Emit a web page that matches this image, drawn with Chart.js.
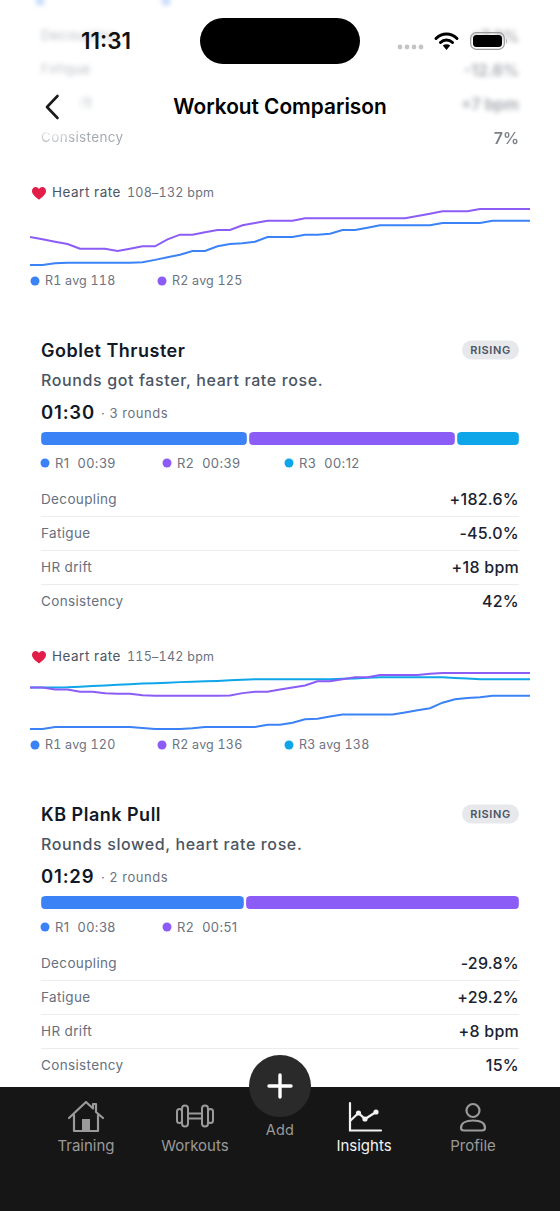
<!DOCTYPE html>
<html>
<head>
<meta charset="utf-8">
<title>Workout Comparison</title>
<script src="https://cdn.jsdelivr.net/npm/chart.js@4"></script>
<style>
  * { box-sizing: border-box; }
  html, body { margin: 0; padding: 0; background: #fff; }
  body { width: 560px; height: 1211px; position: relative; overflow: hidden; font-family: Inter, sans-serif; color: #111827; }
  .t { position: absolute; white-space: pre; line-height: 1; transform: translateY(-50%); }
  .r { transform: translate(-100%, -50%); }
  .c { transform: translate(-50%, -50%); }
  .dot { position: absolute; width: 9px; height: 9px; border-radius: 50%; transform: translate(-50%, -50%); }
  .line { position: absolute; left: 41px; width: 478px; height: 1px; background: #ebecee; }
  canvas { position: absolute; display: block; }
  .badge { position: absolute; left: 462px; width: 57px; height: 19px; border-radius: 10px; background: #e7e8eb; color: #4b5563;
           font-size: 11px; font-weight: 600; letter-spacing: .6px; text-align: center; line-height: 19px; transform: translateY(-50%); }
  .blur { filter: blur(2.6px); opacity: .4; }
  svg { position: absolute; overflow: visible; }
  #nav { position: absolute; left: 0; top: 1087px; width: 560px; height: 124px; background: #161616; }
</style>
</head>
<body>
<div id="page"></div>
<script>
// round colours
const roundColors = ['#3b82f6', '#8b5cf6', '#0ea5e9'];

// heart rate per sample
const hrSeconds = ['0','1','2','3','4','5','6','7','8','9','10','11','12','13','14','15','16','17','18','19','20',
  '21','22','23','24','25','26','27','28','29','30','31','32','33','34','35','36','37','38','39','40'];

const prevR1 = [108,108,108.7,109,109,109,109,109,109,109.2,110.2,111.3,112.4,114,114,116,117,117.3,118,120,120,
  120,121,121,121.4,123,123,124,125,125,125,125,125,126,126,126,126,127,127,127,127];
const prevR2 = [120,119,118,117,115,115,115,114,115,116,116,119,121,121,122,123,123,125,126,127,127,
  127,128,128,128,128,128,128,128,128,128,129,130,131,131,131,132,132,132,132,132];

const gobletR1 = [115,115,116,116,116,116,116,116,116,115.5,115,115,115,115.4,116,116,116,116,116,117,117,
  118,119.7,120,121,122,122,122,122,122,123,124,125,127.7,129.3,130,130.3,131,131,131,131];
const gobletR2 = [135,135,134,134,133,133,132.2,132,132,131.3,131,131,131,131,131,131,131.2,132.3,133,133,134,
  135,136,138,138,139,140,140,141,141,141,141,141.6,142,142,142,142,142,142,142,142];
const gobletR3 = [135,135,135,135.1,135.4,135.7,136,136.3,136.6,136.9,137.1,137.3,137.6,137.8,138,138.2,138.5,138.8,139,139,139,
  139,139,139,139,139.2,139.4,139.7,140,140,140,140,140,139.9,139.6,139.3,139,139,139,139,139];

// round durations in seconds
const gobletRounds = [39, 39, 12];
const plankRounds = [38, 51];

const gobletLegend = ['R1  00:39', 'R2  00:39', 'R3  00:12'];
const plankLegend = ['R1  00:38', 'R2  00:51'];
const prevHrLegend = ['R1 avg 118', 'R2 avg 125'];
const gobletHrLegend = ['R1 avg 120', 'R2 avg 136', 'R3 avg 138'];

const metricNames = ['Decoupling', 'Fatigue', 'HR drift', 'Consistency'];
const prevMetrics = ['+7.3%', '-12.6%', '+7 bpm', '7%'];
const gobletMetrics = ['+182.6%', '-45.0%', '+18 bpm', '42%'];
const plankMetrics = ['-29.8%', '+29.2%', '+8 bpm', '15%'];

const page = document.getElementById('page');

function text(str, x, y, size, weight, color, cls, spacing) {
  const el = document.createElement('div');
  el.className = 't' + (cls ? ' ' + cls : '');
  el.textContent = str;
  el.style.cssText = `left:${x}px;top:${y}px;font-size:${size}px;font-weight:${weight};color:${color};` + (spacing ? `letter-spacing:${spacing}px;` : '');
  page.appendChild(el);
  return el;
}

function dot(x, y, color) {
  const el = document.createElement('div');
  el.className = 'dot';
  el.style.cssText = `left:${x}px;top:${y}px;background:${color}`;
  page.appendChild(el);
}

function addCanvas(left, top, width, height) {
  const c = document.createElement('canvas');
  c.width = width; c.height = height;
  c.style.cssText = `left:${left}px;top:${top}px;width:${width}px;height:${height}px`;
  page.appendChild(c);
  return c;
}

function hrChart(top, series, min, max) {
  new Chart(addCanvas(30, top, 500, 65), {
    type: 'line',
    data: {
      labels: hrSeconds,
      datasets: series.map((values, i) => ({
        data: values,
        borderColor: roundColors[i],
        borderWidth: 2,
        pointRadius: 0,
        tension: 0,
        clip: false
      }))
    },
    options: {
      responsive: false,
      animation: false,
      layout: { padding: { top: 4, bottom: 5, left: 0, right: 0 } },
      plugins: { legend: { display: false }, tooltip: { enabled: false } },
      scales: {
        x: { display: false, offset: false },
        y: { display: false, min, max }
      }
    }
  });
}

function roundsBar(top, rounds) {
  const total = rounds.reduce((a, b) => a + b, 0);
  new Chart(addCanvas(39.5, top, 480, 13), {
    type: 'bar',
    data: {
      labels: ['rounds'],
      datasets: rounds.map((v, i) => ({
        data: [v],
        backgroundColor: roundColors[i],
        borderColor: '#fff',
        borderWidth: { left: 1.5, right: 1.5, top: 0, bottom: 0 },
        borderSkipped: false,
        borderRadius: { topLeft: 5.5, topRight: 5.5, bottomLeft: 5.5, bottomRight: 5.5 },
        barPercentage: 1,
        categoryPercentage: 1
      }))
    },
    options: {
      indexAxis: 'y',
      responsive: false,
      animation: false,
      layout: { padding: 0 },
      plugins: { legend: { display: false }, tooltip: { enabled: false } },
      scales: {
        x: { display: false, stacked: true, min: 0, max: total },
        y: { display: false, stacked: true }
      }
    }
  });
}

function heart(x, y) {
  page.insertAdjacentHTML('beforeend', `<svg style="left:${x}px;top:${y}px" width="14" height="13" viewBox="0 0 24 22">
    <path d="M12 21.5C5 16 0 12 0 6.5 0 3 2.7 0 6.3 0 8.7 0 10.8 1.3 12 3.3 13.2 1.3 15.3 0 17.7 0 21.3 0 24 3 24 6.5 24 12 19 16 12 21.5Z" fill="#e11d48"/></svg>`);
}

function hrBlock(y, range, legend) {
  heart(31.5, y - 6.5);
  text('Heart rate', 52, y, 13.5, 400, '#4b5563', '', .5);
  const r = text(range, 127, y, 12.5, 400, '#6b7280', '', .25);
  r.style.fontVariantNumeric = 'tabular-nums';
  const legendY = y + 88;
  const xs = [35, 162, 289];
  legend.forEach((s, i) => {
    dot(xs[i], legendY, roundColors[i]);
    const l = text(s, xs[i] + 10, legendY, 12.5, 400, '#6b7280', '', .2);
    l.style.fontVariantNumeric = 'tabular-nums';
  });
}

function metrics(y, values) {
  metricNames.forEach((name, i) => {
    const rowY = y + i * 34.1;
    text(name, 41, rowY + .5, 13.5, 400, '#667080', '', .35);
    text(values[i], 519, rowY, 16, 500, '#1a2230', 'r', .25);
    if (i < 3) {
      const l = document.createElement('div');
      l.className = 'line';
      l.style.top = (rowY + 17) + 'px';
      page.appendChild(l);
    }
  });
}

function exercise(y, name, note, total, rounds, legend, values) {
  text(name, 41, y + .5, 18, 600, '#111827', '', .5);
  const badge = document.createElement('div');
  badge.className = 'badge';
  badge.style.top = y + 'px';
  badge.textContent = 'RISING';
  page.appendChild(badge);
  text(note, 41, y + 30, 16, 500, '#4b5563', '', .62);
  text(total, 41, y + 62, 18.5, 600, '#111827', '', .8);
  text('· ' + rounds + ' rounds', 101, y + 63, 13, 400, '#6b7280', '', .55);
  const xs = [45, 167, 289];
  legend.forEach((s, i) => {
    dot(xs[i], y + 113, roundColors[i]);
    text(s, xs[i] + 10, y + 113, 13, 400, '#6b7280', '', .4);
  });
  metrics(y + 149, values);
}

// first block, scrolled under the header
hrBlock(193, '108–132 bpm', prevHrLegend);
hrChart(205, [prevR1, prevR2], 108, 132);

exercise(350, 'Goblet Thruster', 'Rounds got faster, heart rate rose.', '01:30', 3, gobletLegend, gobletMetrics);
roundsBar(432, gobletRounds);
hrBlock(657, '115–142 bpm', gobletHrLegend);
hrChart(669, [gobletR1, gobletR2, gobletR3], 115, 142);

exercise(814, 'KB Plank Pull', 'Rounds slowed, heart rate rose.', '01:29', 2, plankLegend, plankMetrics);
roundsBar(896, plankRounds);

// blurred rows behind the status bar and header
metricNames.forEach((name, i) => {
  const y = 36 + i * 34;
  const a = text(name, 41, y, 13.5, 400, '#4b5563', i < 3 ? 'blur' : '', .35);
  const b = text(prevMetrics[i], 519, y, 16, 600, '#111827', 'r' + (i < 3 ? ' blur' : ''));
  if (i === 3) {
    a.style.opacity = .5; a.style.filter = 'blur(.6px)';
    b.style.opacity = .55; b.style.filter = 'blur(.6px)';
  }
});
[40, 166].forEach(x => {
  const d = document.createElement('div');
  d.className = 'dot blur';
  d.style.cssText = `left:${x}px;top:1px;background:#3b82f6;opacity:.3`;
  page.appendChild(d);
});

page.insertAdjacentHTML('beforeend', `
  <div style="position:absolute;left:200px;top:18px;width:160px;height:46px;border-radius:23px;background:#000"></div>
  <div style="position:absolute;left:26px;top:79px;width:52px;height:54px;border-radius:50%;background:#fff;box-shadow:0 0 12px 6px rgba(255,255,255,.9)"></div>
  <svg style="left:44px;top:94px" width="16" height="26" viewBox="0 0 16 26"><path d="M13.5 2 3 13 13.5 24" fill="none" stroke="#1a1a1a" stroke-width="2.6" stroke-linecap="round" stroke-linejoin="round"/></svg>
  <svg style="left:397px;top:44px" width="28" height="6"><g fill="#c4c4c4"><circle cx="3" cy="3" r="2.4"/><circle cx="10" cy="3" r="2.4"/><circle cx="17" cy="3" r="2.4"/><circle cx="24" cy="3" r="2.4"/></g></svg>
  <svg style="left:434px;top:31px" width="25" height="19" viewBox="0 0 25 19"><g fill="none" stroke="#000" stroke-width="3" stroke-linecap="round"><path d="M2 7.5C8 1.5 17 1.5 23 7.5"/><path d="M6.5 11.5C10 8 15 8 18.5 11.5"/></g><path d="M12.5 19 8.8 14.6C11 12.8 14 12.8 16.2 14.6Z" fill="#000"/></svg>
  <svg style="left:470px;top:32px" width="38" height="18" viewBox="0 0 38 18"><rect x=".7" y=".7" width="33.6" height="16.6" rx="5.5" fill="none" stroke="#999" stroke-width="1.2"/><rect x="3" y="3" width="29" height="12" rx="3.5" fill="#000"/><path d="M36 6.5C37.2 7 37.2 11 36 11.5Z" fill="#aaa"/></svg>
`);
text('11:31', 81, 41, 22.5, 600, '#111', '', 0);
text('Workout Comparison', 280, 107, 20.8, 600, '#000', 'c', 0);

// tab bar
const tabNames = ['Training', 'Workouts', 'Insights', 'Profile'];
const tabXs = [86, 195, 364, 473];
const nav = document.createElement('div');
nav.id = 'nav';
page.appendChild(nav);
tabNames.forEach((name, i) => text(name, tabXs[i], 1145, 15, 400, name === 'Insights' ? '#f2f2f2' : '#9a9a9a', 'c', 0));
text('Add', 280, 1130, 14.5, 400, '#9a9a9a', 'c', .2);
page.insertAdjacentHTML('beforeend', `
  <div style="position:absolute;left:249px;top:1055px;width:62px;height:62px;border-radius:50%;background:#2a2a2a"></div>
  <svg style="left:267px;top:1073px" width="26" height="26"><path d="M13 2V24M2 13H24" stroke="#fff" stroke-width="3.4" stroke-linecap="round"/></svg>
  <svg style="left:67px;top:1100px" width="38" height="33" viewBox="0 0 38 33"><path d="M2 18 19 2 26 8.5V4H29V12L36 18M7 15V31H31V15" fill="none" stroke="#9a9a9a" stroke-width="2.2" stroke-linecap="round" stroke-linejoin="round"/><rect x="15" y="19" width="8" height="12" fill="#9a9a9a"/></svg>
  <svg style="left:176px;top:1104px" width="38" height="24" viewBox="0 0 38 24" fill="none" stroke="#9a9a9a" stroke-width="2"><rect x="1" y="5" width="5" height="14" rx="2.5"/><rect x="6" y="1.500" width="6" height="21" rx="3"/><rect x="26" y="1.500" width="6" height="21" rx="3"/><rect x="32" y="5" width="5" height="14" rx="2.5"/><path d="M12 9.500H26M12 14.500H26"/></svg>
  <svg style="left:348px;top:1102px" width="34" height="30" viewBox="0 0 34 30" fill="none" stroke="#f2f2f2" stroke-width="2.2"><path d="M2 1V28.500H33" stroke-linecap="round"/><path d="M2 19 10.500 11 17 17 28 10" /><g fill="#f2f2f2" stroke="none"><circle cx="10.500" cy="11" r="2.6"/><circle cx="17" cy="17" r="2.6"/><circle cx="28" cy="10" r="2.6"/></g></svg>
  <svg style="left:459px;top:1102px" width="28" height="30" viewBox="0 0 28 30" fill="none" stroke="#9a9a9a" stroke-width="2.2"><circle cx="14" cy="8.500" r="6.500"/><path d="M2 26C2 21 7 18.500 14 18.500S26 21 26 26C26 28 25 28.500 23 28.500H5C3 28.500 2 28 2 26Z"/></svg>
`);
</script>
</body>
</html>
